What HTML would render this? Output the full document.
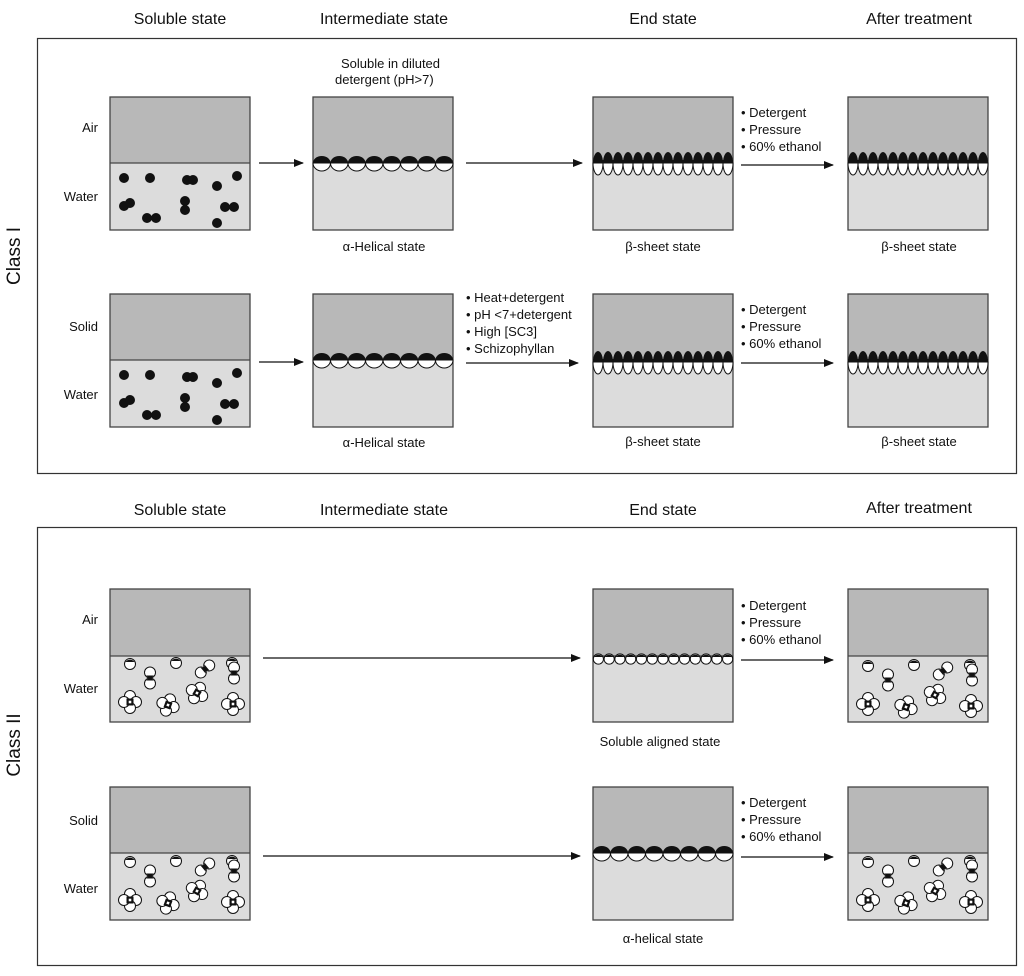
<!DOCTYPE html>
<html><head><meta charset="utf-8"><style>
body{margin:0;background:#fff;width:1024px;height:971px;overflow:hidden}
svg text{font-family:"Liberation Sans",sans-serif;fill:#111}
.h{font-size:16px;text-anchor:middle}
.s{font-size:13px}
.c{text-anchor:middle}
.r{text-anchor:end}
</style></head><body>
<svg id="sv" width="1024" height="971" viewBox="0 0 1024 971" xmlns="http://www.w3.org/2000/svg">
<defs><marker id="ar" markerWidth="10" markerHeight="8" refX="9" refY="4" orient="auto" markerUnits="userSpaceOnUse"><path d="M0,0 L10,4 L0,8 z" fill="#111"/></marker></defs>
<rect x="37.5" y="38.5" width="979" height="435" fill="none" stroke="#333" stroke-width="1.2"/>
<rect x="37.5" y="527.5" width="979" height="438" fill="none" stroke="#333" stroke-width="1.2"/>
<text class="h" x="180" y="24">Soluble state</text>
<text class="h" x="384" y="24">Intermediate state</text>
<text class="h" x="663" y="24">End state</text>
<text class="h" x="919" y="24">After treatment</text>
<text class="h" x="180" y="515">Soluble state</text>
<text class="h" x="384" y="515">Intermediate state</text>
<text class="h" x="663" y="515">End state</text>
<text class="h" x="919" y="513">After treatment</text>
<text class="h" transform="translate(20,256) rotate(-90)" style="font-size:19px">Class I</text>
<text class="h" transform="translate(20,745) rotate(-90)" style="font-size:19px">Class II</text>
<text class="s r" x="98" y="132">Air</text><text class="s r" x="98" y="201">Water</text>
<text class="s r" x="98" y="331">Solid</text><text class="s r" x="98" y="399">Water</text>
<text class="s r" x="98" y="624">Air</text><text class="s r" x="98" y="693">Water</text>
<text class="s r" x="98" y="825">Solid</text><text class="s r" x="98" y="893">Water</text>
<text class="s" x="341" y="68">Soluble in diluted</text>
<text class="s" x="335" y="84">detergent (pH&gt;7)</text>
<text class="s c" x="384" y="251">α-Helical state</text>
<text class="s c" x="663" y="251">β-sheet state</text>
<text class="s c" x="919" y="251">β-sheet state</text>
<text class="s c" x="384" y="447">α-Helical state</text>
<text class="s c" x="663" y="446">β-sheet state</text>
<text class="s c" x="919" y="446">β-sheet state</text>
<text class="s c" x="660" y="746">Soluble aligned state</text>
<text class="s c" x="663" y="943">α-helical state</text>
<g id="g"></g>
</svg>
<script>
var g=document.getElementById('g'),h='';
function box(x,y,d){h+=`<rect x="${x}" y="${y}" width="140" height="${d}" fill="#b8b8b8"/><rect x="${x}" y="${y+d}" width="140" height="${133-d}" fill="#dcdcdc"/><rect x="${x}" y="${y}" width="140" height="133" fill="none" stroke="#444" stroke-width="1.3"/><line x1="${x}" y1="${y+d}" x2="${x+140}" y2="${y+d}" stroke="#444" stroke-width="1.3"/>`;}
function arrow(x1,x2,y){h+=`<line x1="${x1}" y1="${y}" x2="${x2}" y2="${y}" stroke="#111" stroke-width="1.3" marker-end="url(#ar)"/>`;}
function bul(x,y,arr){arr.forEach((t,i)=>{h+=`<text class="s" x="${x}" y="${y+i*17}">• ${t}</text>`;});}
function alpha(x,y){var w=140/8;for(var i=0;i<8;i++){var cx=x+w*i+w/2;h+=`<path d="M${cx-w/2},${y} A${w/2},7 0 0 1 ${cx+w/2},${y} Z" fill="#111"/><path d="M${cx-w/2},${y} A${w/2},8 0 0 0 ${cx+w/2},${y} Z" fill="#fff" stroke="#111" stroke-width="1"/>`;}h+=`<rect x="${x}" y="${y-1.5}" width="140" height="1.5" fill="#111"/>`;}
function beta(x,y){var w=10;for(var i=0;i<14;i++){var cx=x+w*i+w/2;h+=`<path d="M${cx-w/2},${y} A${w/2},11 0 0 1 ${cx+w/2},${y} Z" fill="#111"/><path d="M${cx-w/2},${y} A${w/2},12 0 0 0 ${cx+w/2},${y} Z" fill="#fff" stroke="#111" stroke-width="1"/>`;}h+=`<rect x="${x}" y="${y-3}" width="140" height="3" fill="#111"/>`;}
function aligned(x,y){var w=140/13;for(var i=0;i<13;i++){var cx=x+w*i+w/2;h+=`<circle cx="${cx}" cy="${y+3}" r="${w/2-0.3}" fill="#fff" stroke="#111" stroke-width="1"/><path d="M${cx-w/2+1},${y+1} A${w/2},${w/2} 0 0 1 ${cx+w/2-1},${y+1} Z" fill="#111"/>`;}}
var dots=[[124,178],[150,178],[187,180],[193,180],[217,186],[237,176],[124,206],[130,203],[147,218],[156,218],[185,201],[185,210],[225,207],[234,207],[217,223]];
function sol(dy){dots.forEach(p=>{h+=`<circle cx="${p[0]}" cy="${p[1]+dy}" r="5" fill="#111"/>`;});}
function cap(cx,cy,ang){h+=`<g transform="translate(${cx},${cy}) rotate(${ang})"><circle r="5.5" fill="#fff" stroke="#111" stroke-width="1"/><path d="M-4.5,-2 A5.5,5.5 0 0 1 4.5,-2 Z" fill="#111"/></g>`;}
function dimer(cx,cy,ang){h+=`<g transform="translate(${cx},${cy}) rotate(${ang})"><circle cy="-5.5" r="5.5" fill="#fff" stroke="#111"/><circle cy="5.5" r="5.5" fill="#fff" stroke="#111"/><path d="M-4,-2.5 L4,-2.5 L1,0 L4,2.5 L-4,2.5 L-1,0Z" fill="#111"/></g>`;}
function tet(cx,cy,ang){h+=`<g transform="translate(${cx},${cy}) rotate(${ang})">`;[[0,-6],[6,0],[0,6],[-6,0]].forEach(p=>{h+=`<circle cx="${p[0]}" cy="${p[1]}" r="5.5" fill="#fff" stroke="#111"/>`;});h+=`<rect x="-3.5" y="-3.5" width="7" height="7" fill="#111"/><rect x="-1.3" y="-1.3" width="2.6" height="2.6" fill="#fff"/></g>`;}
function sol2(dx,dy){cap(130+dx,664+dy,0);cap(176+dx,663+dy,0);cap(232+dx,663+dy,0);dimer(150+dx,678+dy,0);dimer(205+dx,669+dy,50);dimer(234+dx,673+dy,0);tet(130+dx,702+dy,0);tet(168+dx,705+dy,20);tet(197+dx,693+dy,30);tet(233+dx,704+dy,0);}
box(110,97,66);sol(0);box(313,97,66);alpha(313,163);box(593,97,66);beta(593,163);box(848,97,66);beta(848,163);
arrow(259,303,163);arrow(466,582,163);arrow(741,833,165);
bul(741,117,['Detergent','Pressure','60% ethanol']);
box(110,294,66);sol(197);box(313,294,66);alpha(313,360);box(593,294,66);beta(593,362);box(848,294,66);beta(848,362);
arrow(259,303,362);arrow(466,578,363);arrow(741,833,363);
bul(466,302,['Heat+detergent','pH &lt;7+detergent','High [SC3]','Schizophyllan']);
bul(741,314,['Detergent','Pressure','60% ethanol']);
box(110,589,67);sol2(0,0);box(593,589,67);aligned(593,656);box(848,589,67);sol2(738,2);
arrow(263,580,658);arrow(741,833,660);
bul(741,610,['Detergent','Pressure','60% ethanol']);
box(110,787,66);sol2(0,198);box(593,787,66);alpha(593,853);box(848,787,66);sol2(738,198);
arrow(263,580,856);arrow(741,833,857);
bul(741,807,['Detergent','Pressure','60% ethanol']);
g.innerHTML=h;
</script>
</body></html>
